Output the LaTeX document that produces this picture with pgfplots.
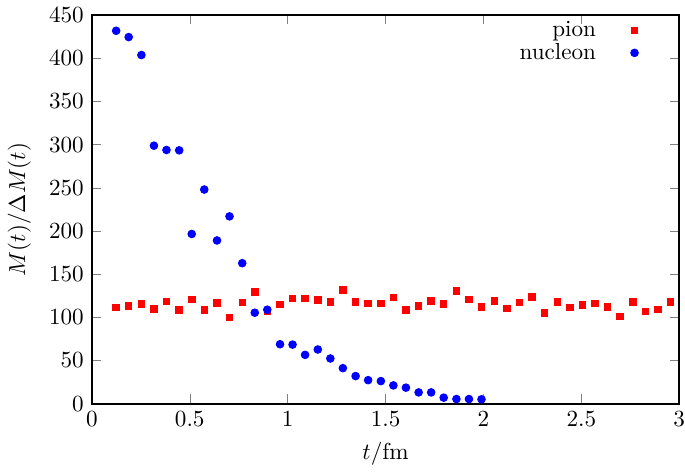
\documentclass[border=0pt]{standalone}
\usepackage{pgfplots}
\pgfplotsset{compat=1.18}
\begin{document}
\begin{tikzpicture}
\begin{axis}[
  scale only axis, width=254pt, height=168pt,
  xmin=0, xmax=3, ymin=0, ymax=450,
  xtick={0,0.5,...,3}, ytick={0,50,...,450},
  tick align=inside, tick pos=both,
  major tick length=4pt,
  axis line style={line width=0.8pt},
  xticklabel style={inner xsep=0pt},
  xlabel={$t/\mathrm{fm}$}, ylabel={$M(t)/\Delta M(t)$},
  ylabel style={yshift=1pt},
  legend style={at={(0.943,1.01)}, anchor=north east, draw=none, fill=none, font=\normalsize, row sep=-2.5pt,
    /tikz/every odd column/.append style={column sep=13pt}},
  legend cell align=right, legend plot pos=right,
]
\addplot[only marks, mark=square*, mark size=1.4pt, color=red] table {
0.124 111.5
0.188 113.4
0.253 115.4
0.317 109.6
0.381 118.4
0.446 108.5
0.510 120.7
0.574 108.5
0.639 116.5
0.703 100.0
0.768 116.9
0.832 129.6
0.896 107.6
0.961 115.0
1.025 122.0
1.089 121.9
1.154 120.0
1.218 118.0
1.282 131.9
1.347 118.0
1.411 116.1
1.476 116.1
1.540 123.0
1.604 108.5
1.669 113.1
1.733 118.8
1.797 115.7
1.862 130.4
1.926 120.4
1.990 111.9
2.055 119.2
2.119 110.0
2.184 116.9
2.248 123.5
2.312 105.0
2.377 118.0
2.441 111.1
2.505 114.2
2.570 116.1
2.634 111.9
2.698 100.7
2.763 118.0
2.827 106.5
2.891 109.2
2.956 117.6
};
\addlegendentry{pion}
\addplot[only marks, mark=*, mark size=1.65pt, color=blue] table {
0.124 431.9
0.188 424.6
0.253 403.8
0.317 298.8
0.381 293.8
0.446 293.4
0.510 196.5
0.574 248.0
0.639 189.0
0.703 216.9
0.768 162.7
0.832 105.3
0.896 108.8
0.961 68.8
1.025 68.4
1.089 56.5
1.154 62.7
1.218 52.3
1.282 41.1
1.347 31.9
1.411 27.2
1.476 26.1
1.540 21.1
1.604 18.5
1.669 13.0
1.733 13.0
1.797 6.9
1.862 5.3
1.926 5.3
1.990 5.0
};
\addlegendentry{nucleon}
\end{axis}
\end{tikzpicture}
\end{document}
